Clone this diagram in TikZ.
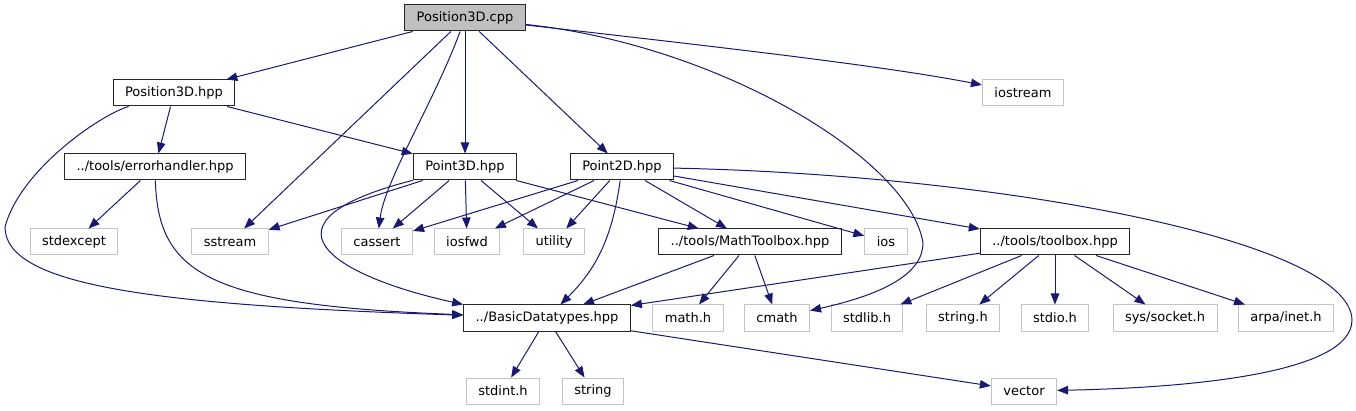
\documentclass[tikz,border=0pt]{standalone}
\usepackage{fontspec}
\setmainfont{DejaVu Sans}
\usepackage{tikz}
\usetikzlibrary{arrows.meta, positioning}
\definecolor{colorEdge}{RGB}{25,25,112}
\definecolor{colorRoot}{RGB}{191,191,191}
\definecolor{colorSys}{RGB}{196,196,196}
\tikzset{
  file/.style={rectangle, draw=black!85, line width=1pt, inner xsep=12pt, inner ysep=0pt, minimum height=26pt, font=\fontsize{13}{15}\selectfont},
  rootfile/.style={file, fill=colorRoot},
  sysfile/.style={file, draw=colorSys},
  dep/.style={-{Triangle[length=11pt,width=8.5pt]}, colorEdge, line width=1pt}
}

\begin{document}
\begin{tikzpicture}[x=1pt, y=-1pt, node distance=75pt]
\useasboundingbox (0,0) rectangle (1356,411);
\node[rootfile] (root) at (465,18) {Position3D.cpp};
\node[file] (p3hpp) at (174,93) {Position3D.hpp};
\node[sysfile] (iostream) at (1023,93) {iostream};
\node[file] (err) at (155,167) {../tools/errorhandler.hpp};
\node[file, below of =root, node distance=149pt] (p3d) {Point3D.hpp};
\node[file] (p2d) at (622,167) {Point2D.hpp};
\node[sysfile] (stdexcept) at (74,242) {stdexcept};
\node[sysfile] (sstream) at (230,242) {sstream};
\node[sysfile] (cassert) at (377,242) {cassert};
\node[sysfile] (iosfwd) at (467,242) {iosfwd};
\node[sysfile] (utility) at (554,242) {utility};
\node[file] (mathtb) at (750,242) {../tools/MathToolbox.hpp};
\node[sysfile] (ios) at (886,242) {ios};
\node[file] (toolbox) at (1055,242) {../tools/toolbox.hpp};
\node[file] (basic) at (547,318) {../BasicDatatypes.hpp};
\node[sysfile] (mathh) at (688,318) {math.h};
\node[sysfile] (cmath) at (777,318) {cmath};
\node[sysfile] (stdlib) at (867,318) {stdlib.h};
\node[sysfile] (stringh) at (963,318) {string.h};
\node[sysfile, below of =toolbox, node distance=76pt] (stdio) {stdio.h};
\node[sysfile] (socket) at (1165,318) {sys/socket.h};
\node[sysfile] (inet) at (1286,318) {arpa/inet.h};
\node[sysfile] (stdint) at (503,391) {stdint.h};
\node[sysfile] (string) at (593,391) {string};
\node[sysfile] (vector) at (1024,391) {vector};

\draw [dep] (root) edge (p3hpp) edge (sstream) edge (p3d) edge (p2d);
\draw [dep] (root) .. controls (435,100) and (385,180) .. (cassert);
\draw [dep] (root) .. controls (700,45) and (880,65) .. (iostream);
\draw [dep] (root) .. controls (720,45) and (910,160) .. (923,243) .. controls (923,275) and (880,295) .. (cmath);
\draw [dep] (p3hpp) edge (err) edge (p3d);
\draw [dep] (p3hpp) .. controls (100,115) and (20,170) .. (5,227) .. controls (5,285) and (150,305) .. (basic);
\draw [dep] (err) edge (stdexcept);
\draw [dep] (err) .. controls (158,275) and (210,305) .. (basic);
\draw [dep] (p3d) edge (sstream) edge (cassert) edge (iosfwd) edge (utility) edge (mathtb);
\draw [dep] (p3d) .. controls (250,222) and (330,275) .. (basic.north west);
\draw [dep] (p2d) edge (cassert) edge (iosfwd) edge (utility) edge (mathtb) edge (ios) edge (toolbox);
\draw [dep] (p2d) .. controls (612,240) and (595,270) .. (basic);
\draw [dep] (p2d) .. controls (1000,175) and (1350,240) .. (1352,320) .. controls (1352,375) and (1180,388) .. (vector);
\draw [dep] (mathtb) edge (basic) edge (mathh) edge (cmath);
\draw [dep] (toolbox) edge (basic) edge (stdlib) edge (stringh) edge (stdio) edge (socket) edge (inet);
\draw [dep] (basic) edge (stdint) edge (string) edge (vector);
\end{tikzpicture}
\end{document}
